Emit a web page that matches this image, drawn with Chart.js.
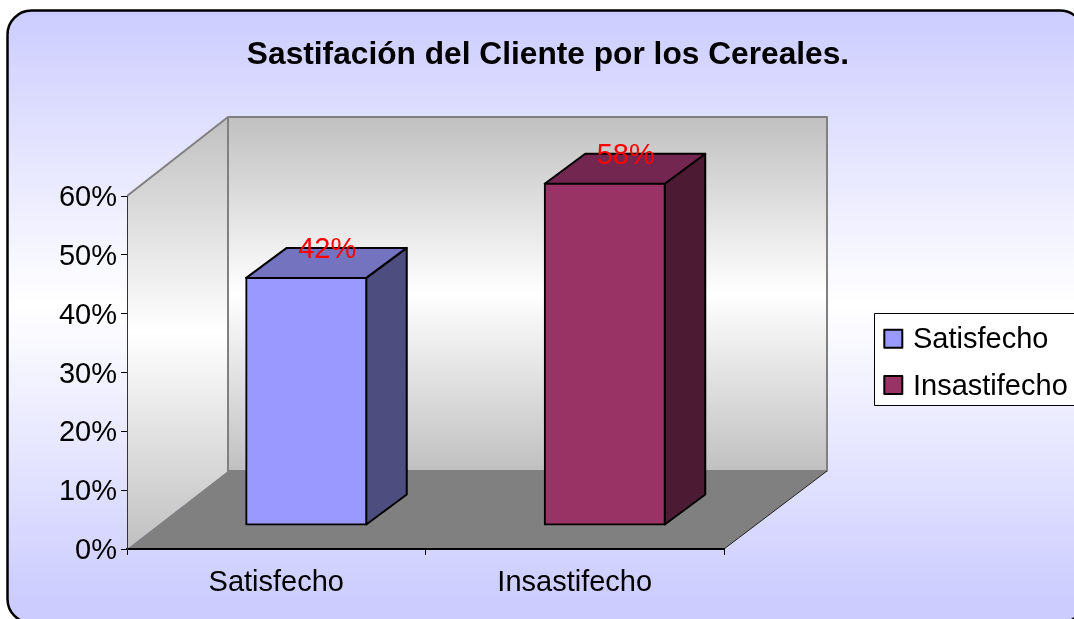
<!DOCTYPE html>
<html lang="es">
<head>
<meta charset="utf-8">
<title>Sastifación del Cliente por los Cereales.</title>
<script src="https://cdn.jsdelivr.net/npm/chart.js@4"></script>
<style>html,body{margin:0;padding:0;background:#fff;overflow:hidden}canvas{display:block}</style>
</head>
<body>
<canvas id="c" width="1074" height="619"></canvas>
<script>
const chartTitle = 'Sastifación del Cliente por los Cereales.';
const categories = ['Satisfecho', 'Insastifecho'];
const satisfaction = [42, 58];
const yTicks = [0, 10, 20, 30, 40, 50, 60];
const frontColors = ['#9999FF', '#993366'];
const topColors = ['#7373BF', '#732650'];
const sideColors = ['#4D4D80', '#4D1A33'];

const FONT = '"Liberation Sans", Arial, sans-serif';
const WALL = {dx: 101, dy: -78};
const BAR_OFFSET = {dx: 30, dy: -24};
const BAR_DEPTH = {dx: 40.5, dy: -30};
const SWATCH_TOPS = [329.7, 376];

function poly(ctx, pts, fill, stroke, lw) {
  ctx.beginPath();
  pts.forEach((p, i) => i ? ctx.lineTo(p[0], p[1]) : ctx.moveTo(p[0], p[1]));
  ctx.closePath();
  if (fill) { ctx.fillStyle = fill; ctx.fill(); }
  if (stroke) { ctx.strokeStyle = stroke; ctx.lineWidth = lw; ctx.lineJoin = 'round'; ctx.stroke(); }
}
function wallGradient(ctx, y0, y1) {
  const g = ctx.createLinearGradient(0, y0, 0, y1);
  g.addColorStop(0, '#C0C0C0');
  g.addColorStop(0.5, '#FFFFFF');
  g.addColorStop(1, '#C0C0C0');
  return g;
}

const scene3d = {
  id: 'scene3d',
  beforeLayout(chart) {
    const l = chart.legend;
    if (!l._fitWrapped) {
      const fit = l.fit;
      l.fit = function () { fit.call(this); this.width = 350; };
      l._fitWrapped = true;
    }
  },
  afterLayout(chart) {
    const l = chart.legend;
    l.left = 867; l.right = 1084; l.top = 307.5; l.bottom = 470;
  },
  beforeDraw(chart) {
    const ctx = chart.ctx, a = chart.chartArea;
    ctx.save();
    ctx.fillStyle = '#fff';
    ctx.fillRect(0, 0, chart.width, chart.height);
    const bg = ctx.createLinearGradient(0, 10, 0, 600);
    bg.addColorStop(0, '#CCCCFF');
    bg.addColorStop(0.5, '#FFFFFF');
    bg.addColorStop(1, '#CCCCFF');
    ctx.beginPath();
    ctx.roundRect(7.5, 10.5, 1076.5, 612.5, 24);
    ctx.fillStyle = bg; ctx.fill();
    ctx.strokeStyle = '#000'; ctx.lineWidth = 2.5; ctx.stroke();

    const L = a.left, R = a.right, T = a.top, B = a.bottom;
    const bL = L + WALL.dx, bR = R + WALL.dx + 2, bT = T + WALL.dy - 1, bB = B + WALL.dy;
    // left wall, back wall, floor
    poly(ctx, [[L, T], [bL, bT], [bL, bB], [L, B]], wallGradient(ctx, bT, B));
    poly(ctx, [[bL, bT], [bR, bT], [bR, bB], [bL, bB]], wallGradient(ctx, bT, bB), '#808080', 2);
    ctx.beginPath(); ctx.moveTo(L, T); ctx.lineTo(bL, bT);
    ctx.strokeStyle = '#808080'; ctx.lineWidth = 2; ctx.stroke();
    poly(ctx, [[L, B], [bL, bB], [bR, bB], [R, B]], '#808080');
    ctx.beginPath(); ctx.moveTo(R, B); ctx.lineTo(bR, bB);
    ctx.strokeStyle = '#222'; ctx.lineWidth = 1; ctx.stroke();

    // legend frame and swatches
    ctx.fillStyle = '#fff'; ctx.fillRect(874.5, 313.5, 210, 92);
    ctx.strokeStyle = '#000'; ctx.lineWidth = 1; ctx.strokeRect(874.5, 313.5, 210, 92);
    SWATCH_TOPS.forEach((y, i) => {
      ctx.fillStyle = frontColors[i]; ctx.fillRect(884.3, y, 18, 18);
      ctx.strokeStyle = '#000'; ctx.lineWidth = 2; ctx.strokeRect(884.3, y, 18, 18);
    });
    ctx.restore();
  },
  beforeDatasetDraw(chart) {
    const ctx = chart.ctx;
    ctx.save();
    ctx.translate(BAR_OFFSET.dx, BAR_OFFSET.dy);
    chart.getDatasetMeta(0).data.forEach((bar, i) => {
      const x0 = bar.x - bar.width / 2, x1 = bar.x + bar.width / 2, yT = bar.y, yB = bar.base;
      const d = BAR_DEPTH;
      poly(ctx, [[x1, yT], [x1 + d.dx, yT + d.dy], [x1 + d.dx, yB + d.dy], [x1, yB]], sideColors[i], '#000', 2);
      poly(ctx, [[x0, yT], [x0 + d.dx, yT + d.dy], [x1 + d.dx, yT + d.dy], [x1, yT]], topColors[i], '#000', 2);
    });
  },
  afterDatasetDraw(chart) {
    chart.ctx.restore();
  },
  afterDatasetsDraw(chart) {
    const ctx = chart.ctx;
    ctx.save();
    ctx.font = '29px ' + FONT;
    ctx.fillStyle = '#FF0000';
    ctx.textAlign = 'center';
    ctx.textBaseline = 'middle';
    chart.getDatasetMeta(0).data.forEach((bar, i) => {
      ctx.fillText(satisfaction[i] + '%', bar.x + BAR_OFFSET.dx + 21, bar.y + BAR_OFFSET.dy - 27.5);
    });
    ctx.restore();
  }
};

new Chart(document.getElementById('c'), {
  type: 'bar',
  plugins: [scene3d],
  data: {
    labels: categories,
    datasets: [{
      label: 'Satisfacción',
      data: satisfaction,
      backgroundColor: frontColors,
      borderColor: '#000',
      borderWidth: 2,
      borderSkipped: false,
      inflateAmount: 1,
      categoryPercentage: 1,
      barPercentage: 0.402,
      clip: false
    }]
  },
  options: {
    responsive: false,
    animation: false,
    layout: {padding: {left: 22, right: 0, top: 0, bottom: 0}},
    plugins: {
      tooltip: {enabled: false},
      title: {
        display: true,
        text: chartTitle,
        color: '#000',
        font: {family: FONT, size: 31.7, weight: 'bold'},
        padding: {top: 36, bottom: 122}
      },
      legend: {
        display: true,
        position: 'right',
        align: 'start',
        labels: {
          boxWidth: 13.5,
          boxHeight: 16,
          padding: 18,
          color: '#000',
          font: {family: FONT, size: 29},
          generateLabels: () => categories.map((text, i) => ({
            text, fillStyle: 'transparent', strokeStyle: 'transparent', lineWidth: 0,
            hidden: false, index: i, datasetIndex: 0
          }))
        }
      }
    },
    scales: {
      x: {
        afterFit(s) { s.height = 70; },
        grid: {display: true, drawOnChartArea: false, drawTicks: true, tickLength: 6, color: '#000', lineWidth: 1},
        border: {display: true, color: '#000', width: 2},
        ticks: {color: '#000', padding: 11, font: {family: FONT, size: 29}, maxRotation: 0}
      },
      y: {
        min: 0,
        max: 60,
        afterFit(s) { s.width = 105; },
        afterBuildTicks(s) { s.ticks = yTicks.map(value => ({value})); },
        grid: {display: true, drawOnChartArea: false, drawTicks: true, tickLength: 6, color: '#000', lineWidth: 1},
        border: {display: true, color: '#333', width: 1},
        ticks: {color: '#000', padding: 4, labelOffset: 2, font: {family: FONT, size: 29}, callback: v => v + '%'}
      }
    }
  }
});
</script>
</body>
</html>
